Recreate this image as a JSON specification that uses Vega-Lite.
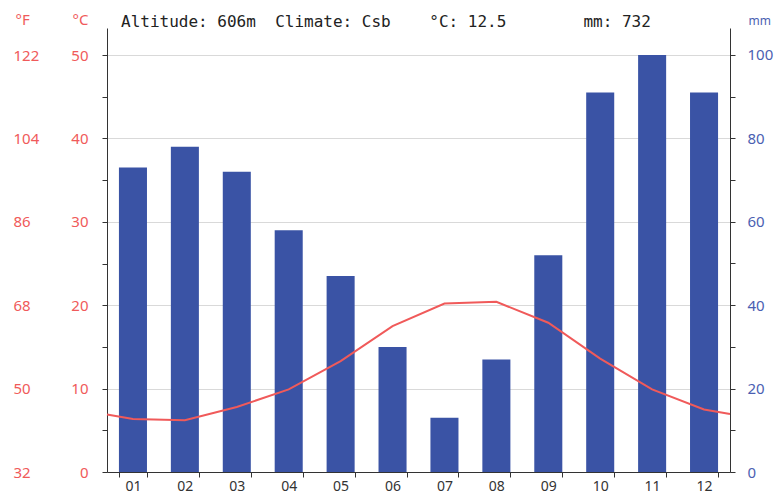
{
  "$schema": "https://vega.github.io/schema/vega-lite/v6.json",
  "autosize": {"type": "none"},
  "padding": {"left": 107, "top": 28, "right": 48, "bottom": 21},
  "width": 623,
  "height": 444,
  "background": "white",
  "title": {
    "text": "Altitude: 606m\u00a0\u00a0Climate: Csb\u00a0\u00a0\u00a0\u00a0°C: 12.5\u00a0\u00a0\u00a0\u00a0\u00a0\u00a0\u00a0\u00a0mm: 732",
    "anchor": "start",
    "frame": "group",
    "font": "DejaVu Sans Mono",
    "fontSize": 16,
    "fontWeight": "normal",
    "color": "#222",
    "dx": 14,
    "dy": 22,
    "offset": 4
  },
  "config": {
    "view": {"stroke": null},
    "axis": {
      "domainColor": "#333",
      "tickColor": "#333",
      "labelFont": "Noto Sans",
      "titleFont": "Noto Sans",
      "labelFontSize": 15
    }
  },
  "resolve": {"scale": {"x": "independent", "y": "independent"}},
  "layer": [
    {
      "data": {"values": [
        {"month": "01", "mm": 73},
        {"month": "02", "mm": 78},
        {"month": "03", "mm": 72},
        {"month": "04", "mm": 58},
        {"month": "05", "mm": 47},
        {"month": "06", "mm": 30},
        {"month": "07", "mm": 13},
        {"month": "08", "mm": 27},
        {"month": "09", "mm": 52},
        {"month": "10", "mm": 91},
        {"month": "11", "mm": 100},
        {"month": "12", "mm": 91}
      ]},
      "mark": {"type": "bar", "color": "#3a53a5"},
      "encoding": {
        "x": {
          "field": "month", "type": "ordinal",
          "scale": {"paddingInner": 0.46, "paddingOuter": 0.23},
          "axis": {"title": null, "labelAngle": 0, "tickBand": "extent", "tickSize": 5, "labelPadding": 2, "labelFontSize": 14, "labelColor": "#333", "grid": false, "domainColor": "#333"}
        },
        "y": {
          "field": "mm", "type": "quantitative",
          "scale": {"domain": [0, 106.47], "nice": false},
          "axis": {
            "orient": "right",
            "values": [0, 10, 20, 30, 40, 50, 60, 70, 80, 90, 100],
            "labelExpr": "datum.value % 20 === 0 ? datum.label : ''",
            "grid": false,
            "tickSize": 5,
            "labelPadding": 12,
            "labelAlign": "left",
            "labelColor": "#4b5fb2",
            "title": "mm",
            "titleAngle": 0,
            "titleAlign": "left",
            "titleBaseline": "alphabetic",
            "titleX": 18,
            "titleY": -4,
            "titleFontSize": 12,
            "titleFontWeight": "normal",
            "titleColor": "#4b5fb2"
          }
        }
      }
    },
    {
      "data": {"name": "temps", "values": [
        {"pos": 0.5, "temp": 6.9},
        {"pos": 1, "temp": 6.35},
        {"pos": 2, "temp": 6.2},
        {"pos": 3, "temp": 7.8},
        {"pos": 4, "temp": 9.9},
        {"pos": 5, "temp": 13.3},
        {"pos": 6, "temp": 17.5},
        {"pos": 7, "temp": 20.2},
        {"pos": 8, "temp": 20.4},
        {"pos": 9, "temp": 17.9},
        {"pos": 10, "temp": 13.6},
        {"pos": 11, "temp": 9.9},
        {"pos": 12, "temp": 7.5},
        {"pos": 12.5, "temp": 6.95}
      ]},
      "mark": {"type": "line", "color": "#f05a5a", "strokeWidth": 2},
      "encoding": {
        "x": {"field": "pos", "type": "quantitative", "scale": {"domain": [0.5, 12.5], "nice": false, "zero": false}, "axis": null},
        "y": {
          "field": "temp", "type": "quantitative",
          "scale": {"domain": [0, 53.24], "nice": false},
          "axis": {
            "orient": "left",
            "values": [0, 5, 10, 15, 20, 25, 30, 35, 40, 45, 50],
            "labelExpr": "datum.value % 10 === 0 ? datum.label : ''",
            "grid": false,
            "tickSize": 5,
            "labelPadding": 14,
            "labelColor": "#f05a5a",
            "title": "°C",
            "titleAngle": 0,
            "titleAlign": "right",
            "titleBaseline": "alphabetic",
            "titleX": -19,
            "titleY": -4,
            "titleFontSize": 15,
            "titleFontWeight": "normal",
            "titleColor": "#f05a5a"
          }
        }
      }
    },
    {
      "data": {"name": "temps"},
      "mark": {"type": "line", "strokeOpacity": 0},
      "encoding": {
        "x": {"field": "pos", "type": "quantitative", "scale": {"domain": [0.5, 12.5], "nice": false, "zero": false}, "axis": null},
        "y": {
          "field": "temp", "type": "quantitative",
          "scale": {"domain": [0, 53.24], "nice": false},
          "axis": {
            "orient": "left",
            "values": [0, 10, 20, 30, 40, 50],
            "labelExpr": "format(datum.value * 1.8 + 32, 'd')",
            "domain": false,
            "ticks": false,
            "grid": true,
            "gridColor": "#d9d9d9",
            "labelAlign": "left",
            "labelPadding": 94,
            "labelColor": "#f05a5a",
            "title": "°F",
            "titleAngle": 0,
            "titleAlign": "left",
            "titleBaseline": "alphabetic",
            "titleX": -92,
            "titleY": -4,
            "titleFontSize": 15,
            "titleFontWeight": "normal",
            "titleColor": "#f05a5a"
          }
        }
      }
    }
  ]
}
